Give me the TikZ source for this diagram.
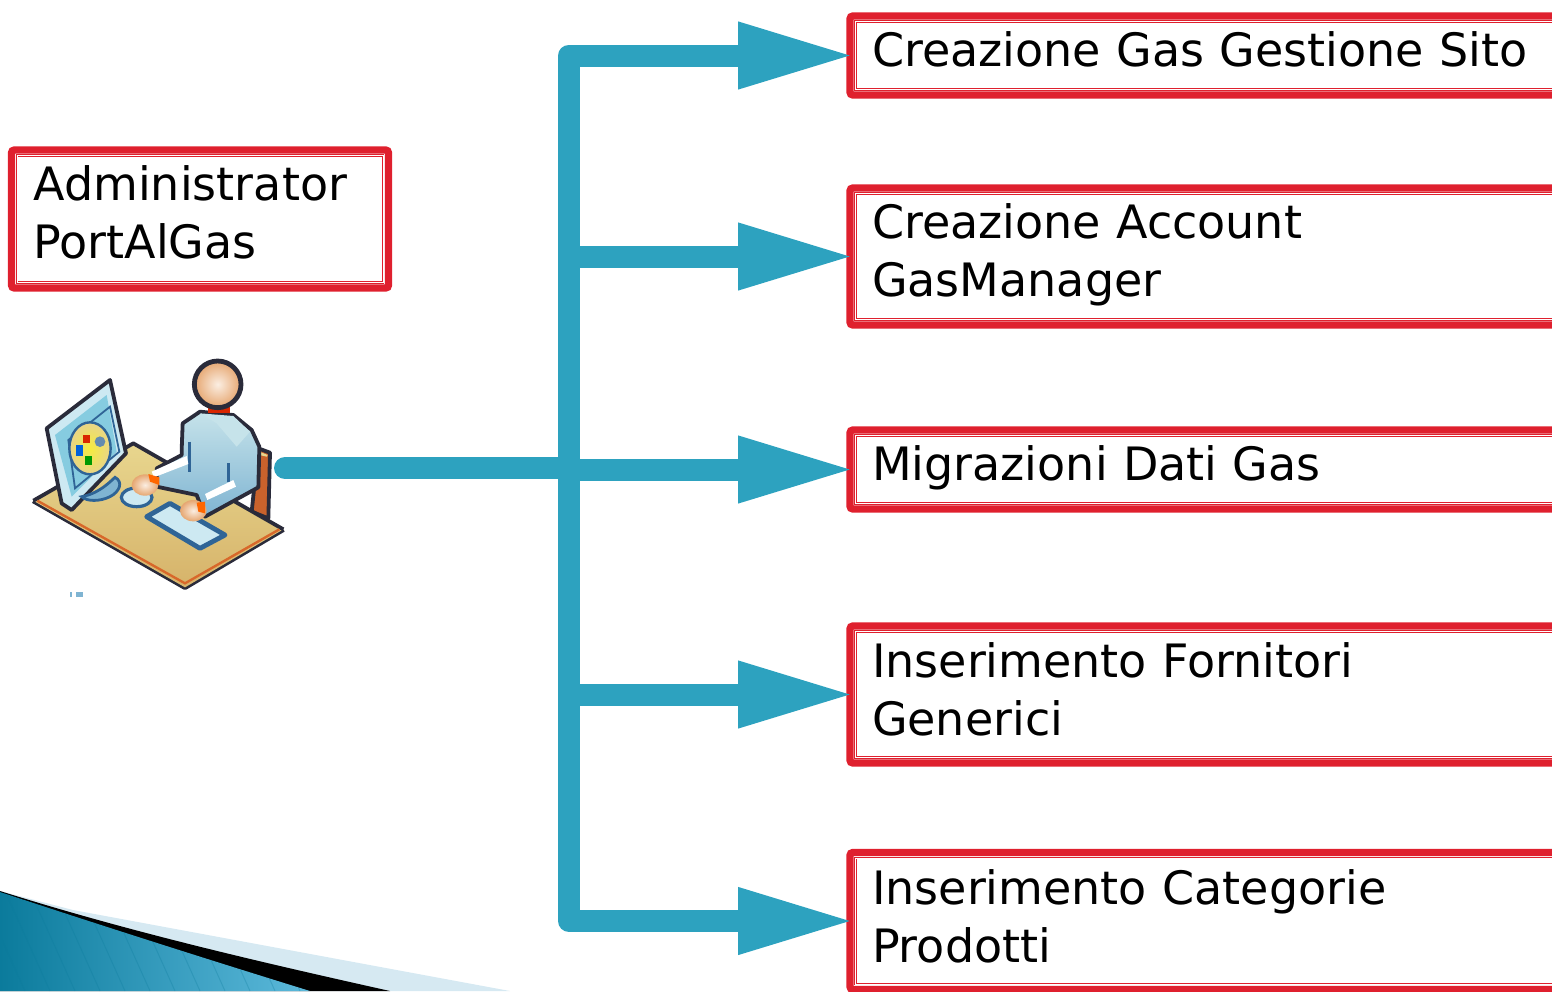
\documentclass[tikz,border=0pt]{standalone}
\usepackage{fontspec}
\setmainfont{DejaVu Sans}
\usetikzlibrary{arrows.meta,calc}
\definecolor{teal}{HTML}{2DA2BF}
\definecolor{boxred}{HTML}{DF202E}
\definecolor{cornerdark}{HTML}{0B7B9C}
\definecolor{cornerlight}{HTML}{5FBBDD}
\definecolor{cornerpale}{HTML}{D6E9F2}
\definecolor{outlinec}{HTML}{2A2B3A}
\definecolor{desktop}{HTML}{E8D68E}
\definecolor{deskbot}{HTML}{D6B36A}
\definecolor{deskedge}{HTML}{D8682A}
\definecolor{chairc}{HTML}{C9622C}
\definecolor{bluedark}{HTML}{2F6496}
\definecolor{monpale}{HTML}{CDE9F2}
\definecolor{monscreen}{HTML}{86CCE0}
\definecolor{bodytop}{HTML}{C6E3EA}
\definecolor{bodybot}{HTML}{7FB4D2}
\definecolor{skin}{HTML}{E6A670}
\definecolor{skinlight}{HTML}{FBEEE2}
\definecolor{palette}{HTML}{E8D48A}
\tikzset{
  redbox/.style={draw=boxred,line width=3.7pt,rounded corners=1.5pt,fill=white,outer sep=0pt,
    anchor=west,align=left,inner xsep=11pt,inner ysep=0pt,text=black,
    font=\fontsize{23pt}{28.8pt}\selectfont},
  innerline/.style={draw=boxred,line width=.35pt,double=white,double distance=.35pt},
  conn/.style={draw=teal,line width=11pt,line cap=butt,line join=round,shorten >=-3pt,-{Triangle[length=59pt,width=30.5pt]}},
  stem/.style={draw=teal,line width=11pt,line cap=round},
  iconline/.style={draw=outlinec,line width=1.9pt,line join=round},
}
\begin{document}
\begin{tikzpicture}[x=.5pt,y=-.5pt]
\useasboundingbox (0,0) rectangle (1552,991);
\clip (0,0) rectangle (1552,991);
% corner decoration
\fill[cornerpale] (0,891) -- (73,910) -- (510,991) -- (0,991) -- cycle;
\fill[black] (0,891) .. controls (130,932) and (260,962) .. (390,991) -- (0,991) -- cycle;
\begin{scope}
\clip (0,892) .. controls (100,925) and (200,957) .. (310,991) -- (0,991) -- cycle;
\shade[left color=cornerdark,right color=cornerlight] (0,885) rectangle (320,995);
\foreach \k in {-2,...,13}
  \draw[cornerdark,opacity=.28,line width=.5pt] (25*\k,880) -- (25*\k+50,991);
\end{scope}
% icon
\begin{scope}[shift={(0,340)},x=.1666667pt,y=-.1666667pt]
% chair
\fill[chairc,draw=outlinec,line width=1.9pt,line join=round] (775,325) -- (810,338) -- (805,535) -- (755,515) -- cycle;
\fill[desktop] (778,335) -- (803,345) -- (800,350) -- (778,345) -- cycle;
% desk
\draw[outlinec,line width=2.6pt,line join=round] (850,568) -- (555,742) -- (100,482);
\shade[top color=desktop,bottom color=deskbot]
  (100,482) -- (400,310) -- (850,568) -- (555,742) -- cycle;
\draw[iconline] (100,482) -- (400,310) -- (850,568);
\draw[deskedge,line width=1.2pt] (838,568) -- (555,730) -- (112,482);
% monitor
\fill[monpale] (140,265) -- (330,120) -- (378,340) -- (215,510) -- (185,490) -- cycle;
\draw[iconline] (140,265) -- (330,120) -- (378,340) -- (215,510) -- (185,490) -- cycle;
\fill[monscreen] (165,285) -- (320,165) -- (350,335) -- (215,470) -- cycle;
\draw[bluedark,line width=.9pt] (205,300) -- (330,200) -- (358,335) -- (225,445) -- cycle;
\shade[inner color=yellow!55!palette,outer color=palette,draw=bluedark,line width=1.2pt] (270,325) ellipse[x radius=62,y radius=78];
\fill[red!65!orange!85!black] (248,285) rectangle (270,310);
\fill[blue!55!cyan!85!black] (228,315) rectangle (250,348);
\fill[green!60!black] (255,348) rectangle (277,375);
\fill[bluedark!75!white] (300,305) circle[radius=16];
% stand
\fill[draw=bluedark,line width=1.4pt,fill=bodybot] (245,470) .. controls (300,460) and (335,420) .. (345,412) .. controls (370,425) and (360,455) .. (330,470) .. controls (300,485) and (260,485) .. (245,470) -- cycle;
% mouse
\fill[draw=bluedark,line width=1.6pt,fill=monpale] (410,472) ellipse[x radius=46,y radius=28];
% keyboard
\fill[draw=bluedark,line width=2.4pt,fill=monpale,line join=round] (440,530) -- (510,490) -- (675,585) -- (600,625) -- cycle;
% body
\shade[top color=bodytop,bottom color=bodybot,draw=outlinec,line width=1.9pt,line join=round]
  (545,330) -- (548,250) -- (600,215) -- (700,225) -- (755,270) -- (778,320) -- (775,442) -- (615,530) -- (590,465) -- (470,440) -- (470,385) -- (545,345) -- cycle;
\fill[bodytop] (600,220) -- (700,228) -- (750,275) -- (710,320) -- (650,250) -- cycle;
\draw[bluedark,line width=1.4pt] (568,305) -- (568,395);
\draw[bluedark,line width=1.4pt] (685,370) -- (685,425);
\fill[white] (455,395) -- (560,348) -- (565,372) -- (462,412) -- cycle;
\fill[white] (615,462) -- (700,420) -- (708,440) -- (622,480) -- cycle;
% hands
\shade[inner color=skinlight,outer color=skin] (435,435) ellipse[x radius=40,y radius=32];
\fill[orange!80!red] (445,402) -- (478,412) -- (478,435) -- (450,425) -- cycle;
\shade[inner color=skinlight,outer color=skin] (580,512) ellipse[x radius=40,y radius=32];
\fill[orange!80!red] (590,488) -- (615,485) -- (615,520) -- (595,515) -- cycle;
% collar + head
\fill[red!65!orange!85!black] (625,200) rectangle (690,220);
\shade[inner color=skinlight,outer color=skin] (653,133) circle[radius=70];
\draw[outlinec,line width=2.4pt] (653,133) circle[radius=70];
% speck
\fill[bodybot] (210,757) rectangle (217,770);
\fill[bodybot] (229,757) rectangle (250,770);
\end{scope}
% boxes
\node[redbox,text depth=36pt,text width=166.5pt,minimum height=69pt] (admin) at (11.5,219) {Administrator\\PortAlGas};
\node[redbox,text depth=6pt,text width=353.5pt,minimum height=39.5pt] (b1) at (850,55.5) {Creazione Gas Gestione Sito};
\node[redbox,text depth=35pt,text width=353.5pt,minimum height=68.5pt] (b2) at (850,256.5) {Creazione Account\\GasManager};
\node[redbox,text depth=6pt,text width=353.5pt,minimum height=39.5pt] (b3) at (850,469.5) {Migrazioni Dati Gas};
\node[redbox,text depth=34pt,text width=353.5pt,minimum height=68.5pt] (b4) at (850,694.5) {Inserimento Fornitori\\Generici};
\node[redbox,text depth=34pt,text width=353.5pt,minimum height=68.5pt] (b5) at (850,921) {Inserimento Categorie\\Prodotti};
\foreach \b in {admin,b1,b2,b3,b4,b5}
  \draw[innerline] ($(\b.north west)+(5.5,5.5)$) rectangle ($(\b.south east)+(-5.5,-5.5)$);
% connectors
\coordinate (src) at (285,468);
\coordinate (hub) at (569,468);
\draw[stem] (src) -- (hub);
\draw[conn] (hub) |- (b1.west);
\draw[conn] (hub) |- (b5.west);
\draw[conn] (hub |- b2.west) -- (b2.west);
\draw[conn] (hub |- b3.west) -- (b3.west);
\draw[conn] (hub |- b4.west) -- (b4.west);
\end{tikzpicture}
\end{document}
